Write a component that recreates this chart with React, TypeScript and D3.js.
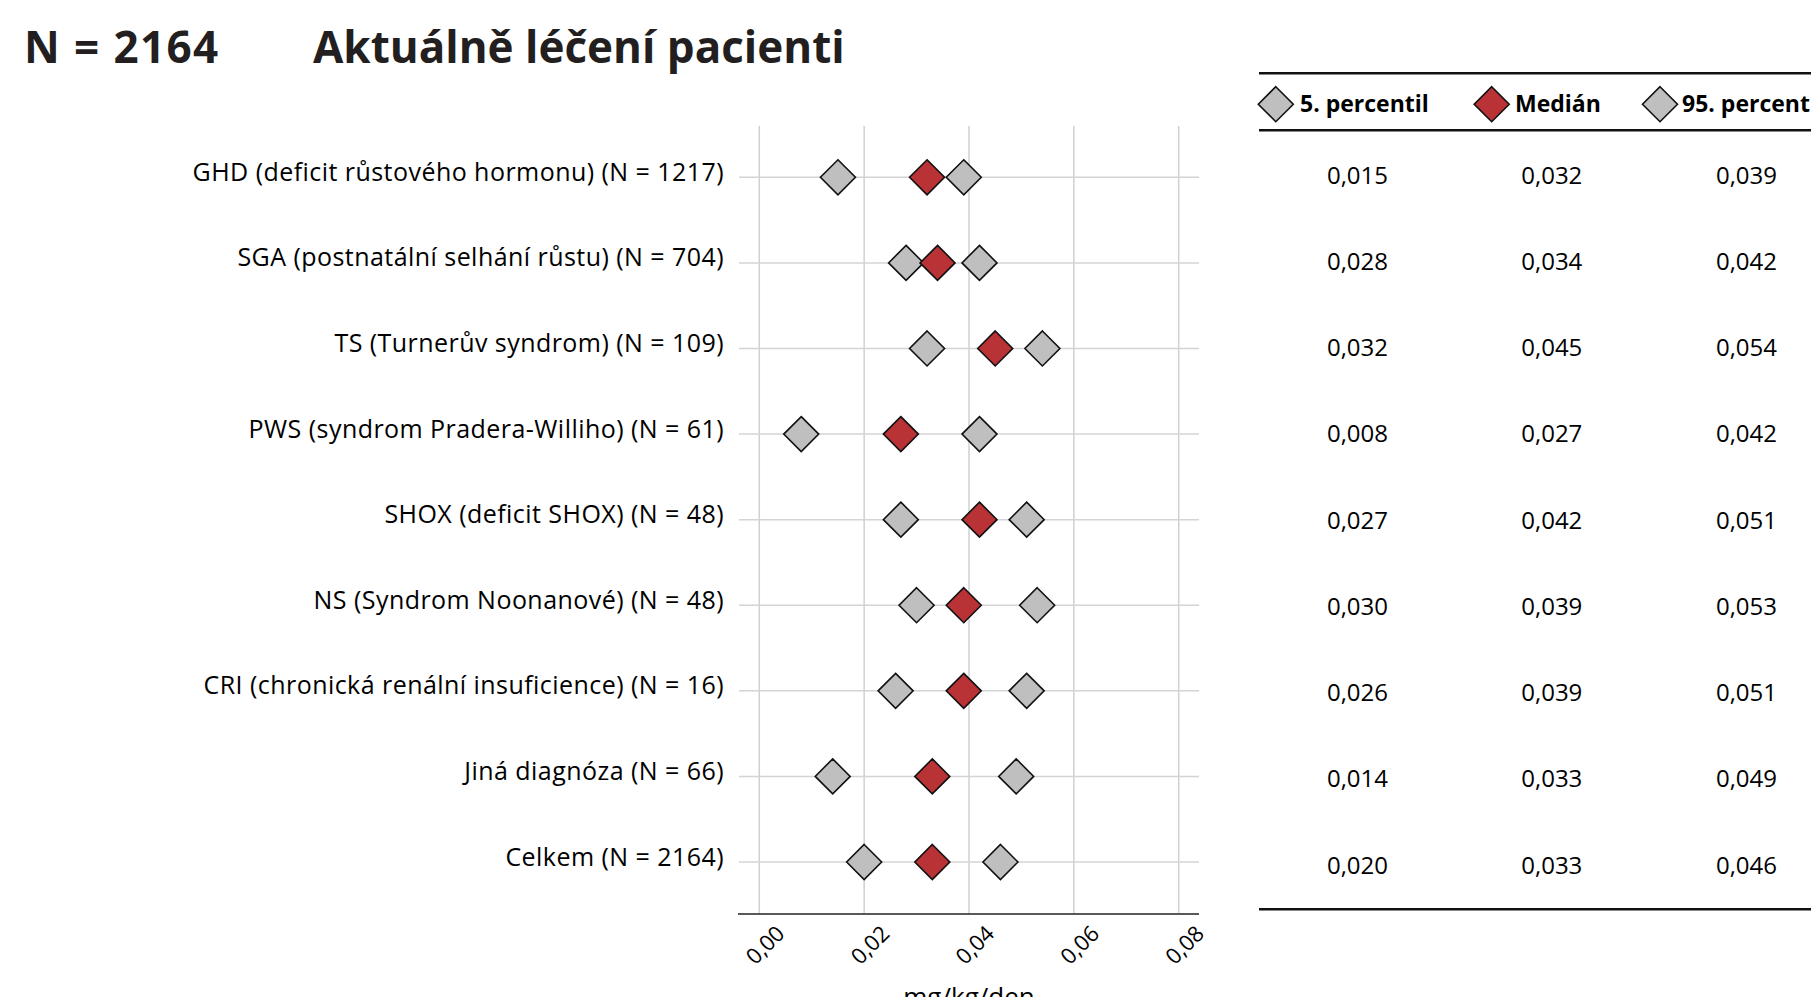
import React from "react";
import * as d3 from "d3";

const categories = [
  "GHD (deficit růstového hormonu) (N = 1217)",
  "SGA (postnatální selhání růstu) (N = 704)",
  "TS (Turnerův syndrom) (N = 109)",
  "PWS (syndrom Pradera-Williho) (N = 61)",
  "SHOX (deficit SHOX) (N = 48)",
  "NS (Syndrom Noonanové) (N = 48)",
  "CRI (chronická renální insuficience) (N = 16)",
  "Jiná diagnóza (N = 66)",
  "Celkem (N = 2164)",
];
const p5 = [0.015, 0.028, 0.032, 0.008, 0.027, 0.03, 0.026, 0.014, 0.02];
const median = [0.032, 0.034, 0.045, 0.027, 0.042, 0.039, 0.039, 0.033, 0.033];
const p95 = [0.039, 0.042, 0.054, 0.042, 0.051, 0.053, 0.051, 0.049, 0.046];
const xTicks = [0, 0.02, 0.04, 0.06, 0.08];
const legendLabels = ["5. percentil", "Medián", "95. percentil"];
const titleLeft = "N = 2164";
const titleRight = "Aktuálně léčení pacienti";
const xAxisTitle = "mg/kg/den";

const GREY = "#bfbfbf";
const RED = "#b83236";
const FONT = "'Open Sans', 'Noto Sans', sans-serif";

export default function App() {
  const W = 1811;
  const H = 997;
  const x = d3.scaleLinear().domain([0, 0.08]).range([759.3, 1178.7]);
  const y = d3.scalePoint<string>().domain(categories).range([177.3, 862]);
  const yTable = d3.scalePoint<string>().domain(categories).range([175, 865]);
  const colX = [1357.5, 1551.8, 1746.5];
  const fmt3 = (v: number) => d3.format(".3f")(v).replace(".", ",");
  const fmt2 = (v: number) => d3.format(".2f")(v).replace(".", ",");
  const R = 17.5;
  const diamond = (cx: number, cy: number) =>
    `M${cx},${cy - R}L${cx + R},${cy}L${cx},${cy + R}L${cx - R},${cy}Z`;

  const series = [
    { vals: p5, fill: GREY },
    { vals: p95, fill: GREY },
    { vals: median, fill: RED },
  ];
  const legend = [
    { label: legendLabels[0], fill: GREY, dx: 1275.8, tx: 1300 },
    { label: legendLabels[1], fill: RED, dx: 1491.7, tx: 1515 },
    { label: legendLabels[2], fill: GREY, dx: 1660, tx: 1682 },
  ];
  const tableCols = [p5, median, p95];
  const gridTop = 126;
  const axisY = 914;

  return (
    <svg
      width={W}
      height={H}
      style={{ position: "absolute", left: 0, top: 0, background: "#fff" }}
      fontFamily={FONT}
    >
      <rect x={0} y={0} width={W} height={H} fill="#fff" />
      {/* titles */}
      <text x={24} y={63.3} fontSize={44} fontWeight={700} letterSpacing={1.4} fill="#231f20">
        {titleLeft}
      </text>
      <text x={313} y={63.3} fontSize={44} fontWeight={700} fill="#231f20">
        {titleRight}
      </text>

      {/* vertical gridlines */}
      {xTicks.map((t) => (
        <line
          key={"vg" + t}
          x1={x(t)}
          x2={x(t)}
          y1={gridTop}
          y2={axisY}
          stroke="#d0d0d0"
          strokeWidth={1.5}
        />
      ))}
      {/* horizontal row lines */}
      {categories.map((c) => (
        <line
          key={"hg" + c}
          x1={739}
          x2={1199}
          y1={y(c)}
          y2={y(c)}
          stroke="#d4d4d4"
          strokeWidth={1.5}
        />
      ))}
      {/* axis line */}
      <line x1={738} x2={1199} y1={axisY} y2={axisY} stroke="#595959" strokeWidth={2} />

      {/* category labels */}
      {categories.map((c) => (
        <text
          key={"lab" + c}
          x={724}
          y={(y(c) as number) + 3.5}
          textAnchor="end"
          fontSize={25}
          letterSpacing={0.45}
          fill="#000"
        >
          {c}
        </text>
      ))}

      {/* tick labels */}
      {xTicks.map((t) => (
        <text
          key={"tl" + t}
          transform={`translate(${x(t) + 5},${944}) rotate(-45)`}
          textAnchor="middle"
          dominantBaseline="central"
          fontSize={22}
          fill="#000"
        >
          {fmt2(t)}
        </text>
      ))}
      <text x={x(0.04)} y={1006} textAnchor="middle" fontSize={26} fill="#000">
        {xAxisTitle}
      </text>

      {/* markers */}
      {series.map((s, si) =>
        categories.map((c, i) => (
          <path
            key={"m" + si + "-" + i}
            d={diamond(x(s.vals[i]), y(c) as number)}
            fill={s.fill}
            stroke="#111"
            strokeWidth={1.6}
            strokeLinejoin="miter"
          />
        ))
      )}

      {/* legend / table */}
      <line x1={1259} x2={W} y1={73.3} y2={73.3} stroke="#111" strokeWidth={2.5} />
      <line x1={1259} x2={W} y1={130.3} y2={130.3} stroke="#111" strokeWidth={2.5} />
      <line x1={1259} x2={W} y1={909.3} y2={909.3} stroke="#111" strokeWidth={2.5} />
      {legend.map((l) => (
        <g key={"lg" + l.label}>
          <path d={diamond(l.dx, 104.2)} fill={l.fill} stroke="#111" strokeWidth={1.6} />
          <text x={l.tx} y={112} fontSize={23} fontWeight={700} fill="#000">
            {l.label}
          </text>
        </g>
      ))}
      {tableCols.map((col, ci) =>
        categories.map((c, i) => (
          <text
            key={"tv" + ci + "-" + i}
            x={colX[ci]}
            y={(yTable(c) as number) + 8.5}
            textAnchor="middle"
            fontSize={24}
            fill="#000"
          >
            {fmt3(col[i])}
          </text>
        ))
      )}
    </svg>
  );
}
